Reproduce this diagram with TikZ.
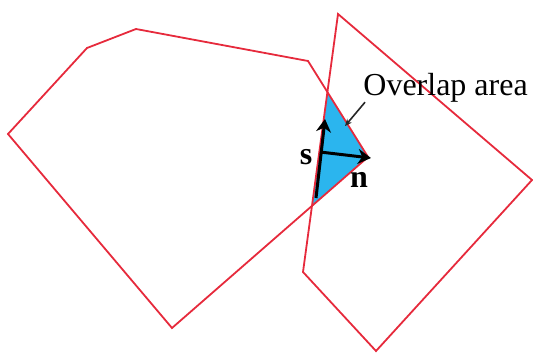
\documentclass[tikz,border=0pt]{standalone}
\usepackage{fontspec}
\setmainfont{Liberation Serif}
\usetikzlibrary{arrows.meta}
\definecolor{ovLine}{HTML}{E62A3C}
\definecolor{ovFill}{HTML}{2BB5EE}
\tikzset{
  ov/.style={x=0.5pt, y=-0.5pt, font=\fontsize{16}{19}\selectfont},
  poly/.style={draw=ovLine, line width=.9pt, line join=miter},
  area/.style={fill=ovFill, draw=none},
  vec/.style={-{Stealth[length=6.5pt, width=7.5pt]}, draw=black, line width=1.5pt},
  ptr/.style={-{Stealth[length=3.5pt, width=3pt]}, draw=black!85, line width=.8pt},
  lbl/.style={font=\fontsize{16}{19}\selectfont\bfseries, inner sep=1pt},
}

\begin{document}
\begin{tikzpicture}[ov]
\useasboundingbox (0,0) rectangle (533,353);
% polygon A
\coordinate (a1) at (8,134);
\coordinate (a2) at (87,48);
\coordinate (a3) at (136,29);
\coordinate (a4) at (308,61);
\coordinate (a5) at (368,157);
\coordinate (a6) at (172,328);
% polygon B
\coordinate (b1) at (338,14);
\coordinate (b2) at (532,180);
\coordinate (b3) at (376,351);
\coordinate (b4) at (303,272);
% overlap
\coordinate (o1) at (intersection of a4--a5 and b1--b4);
\coordinate (o2) at (intersection of a5--a6 and b1--b4);
\fill[area] (o1) -- (a5) -- (o2) -- cycle;
\draw[poly] (a1) -- (a2) -- (a3) -- (a4) -- (a5) -- (a6) -- cycle;
\draw[poly] (b1) -- (b2) -- (b3) -- (b4) -- cycle;
% vectors s, n
\coordinate (s0) at (316,198);
\coordinate (s1) at (325,119);
\coordinate (n0) at (320,152);
\coordinate (n1) at (371,158);
\draw[vec] (s0) -- (s1);
\draw[vec] (n0) -- (n1);
\node[lbl] (s) at (306,157) {s};
\node[lbl] (n) at (359,180) {n};
% label
\node[anchor=base west, inner sep=0pt] (ovl) at (363,95) {Overlap area};
\coordinate (tip) at (345,126);
\draw[ptr] ([xshift=1pt]ovl.south west) -- (tip);
\end{tikzpicture}
\end{document}
